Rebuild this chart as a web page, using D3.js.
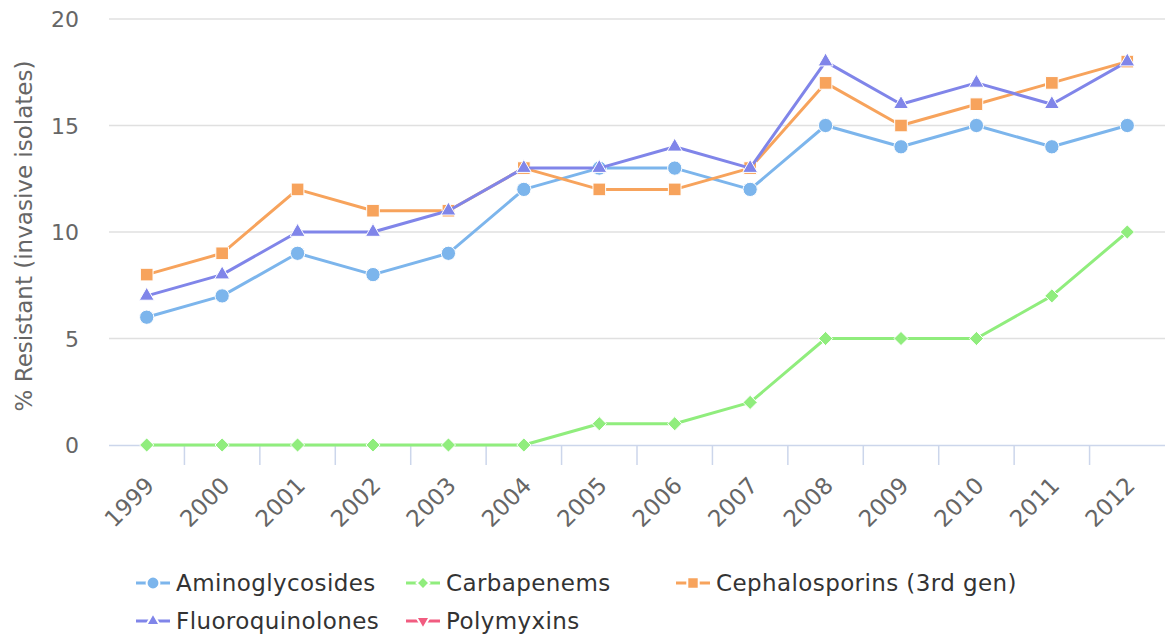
<!DOCTYPE html>
<meta charset="utf-8">
<style>
body { margin: 0; background: #fff; }
svg { font-family: "DejaVu Sans", Verdana, sans-serif; }
.grid line { stroke: #e0e0e0; stroke-width: 1.5px; }
.tick-label { fill: #666; font-size: 22px; }
.x-label { fill: #666; font-size: 23px; }
.axis-title { fill: #666; font-size: 23px; }
.legend-text { fill: #333; font-size: 23px; letter-spacing: 0.4px; }
</style>
<svg width="1165" height="635"></svg>
<script src="https://cdn.jsdelivr.net/npm/d3@7"></script>
<script>

const years = ["1999","2000","2001","2002","2003","2004","2005","2006","2007","2008","2009","2010","2011","2012"];
const seriesNames = ["Aminoglycosides", "Carbapenems", "Cephalosporins (3rd gen)", "Fluoroquinolones", "Polymyxins"];
const aminoglycosides = [6,7,9,8,9,12,13,13,12,15,14,15,14,15];
const carbapenems = [0,0,0,0,0,0,1,1,2,5,5,5,7,10];
const cephalosporins = [8,9,12,11,11,13,12,12,13,17,15,16,17,18];
const fluoroquinolones = [7,8,10,10,11,13,13,14,13,18,16,17,16,18];
const polymyxins = [];
const yTicks = [0,5,10,15,20];

const colours = ["#7cb5ec", "#90ed7d", "#f7a35c", "#8085e9", "#f15c80"];
const symbols = ["circle", "diamond", "square", "triangle", "triangle-down"];

const series = [aminoglycosides, carbapenems, cephalosporins, fluoroquinolones, polymyxins]
  .map((values, i) => ({name: seriesNames[i], values: values, colour: colours[i], symbol: symbols[i]}));

const margin = {top: 19, left: 109};
const width = 1165, height = 635;
const plotBottom = 445;

const svg = d3.select("svg");

const x = d3.scaleBand().domain(years).range([margin.left, width]);
const y = d3.scaleLinear().domain([0, 20]).range([plotBottom, margin.top]);

// grid lines
svg.append("g").attr("class", "grid")
  .selectAll("line").data(yTicks.filter(d => d > 0))
  .enter().append("line")
  .attr("x1", margin.left).attr("x2", width)
  .attr("y1", d => y(d)).attr("y2", d => y(d));

// y labels
svg.append("g").selectAll("text").data(yTicks)
  .enter().append("text")
  .attr("class", "tick-label")
  .attr("x", 79).attr("y", d => y(d) + 8)
  .attr("text-anchor", "end")
  .text(d => d);

svg.append("text")
  .attr("class", "axis-title")
  .attr("transform", "translate(32," + ((plotBottom + margin.top) / 2 + 4) + ") rotate(-90)")
  .attr("text-anchor", "middle")
  .text("% Resistant (invasive isolates)");

// x axis line + ticks
svg.append("line")
  .attr("x1", margin.left).attr("x2", width)
  .attr("y1", plotBottom + 0.5).attr("y2", plotBottom + 0.5)
  .attr("stroke", "#ccd6eb").attr("stroke-width", 1.5);

svg.append("g").selectAll("line").data(years.slice(1))
  .enter().append("line")
  .attr("x1", d => x(d)).attr("x2", d => x(d))
  .attr("y1", plotBottom).attr("y2", plotBottom + 20)
  .attr("stroke", "#ccd6eb").attr("stroke-width", 1.5);

svg.append("g").selectAll("text").data(years)
  .enter().append("text")
  .attr("class", "x-label")
  .attr("text-anchor", "end")
  .attr("transform", d => "translate(" + (x(d) + x.bandwidth() / 2 + 9) + "," + (plotBottom + 42) + ") rotate(-45)")
  .text(d => d);

// lines and markers
const cx = i => x(years[i]) + x.bandwidth() / 2;
const line = d3.line().x((d, i) => cx(i)).y(d => y(d));

function symbolFor(name, size) {
  if (name === "circle") return d3.symbol(d3.symbolCircle, size)();
  if (name === "square") return d3.symbol(d3.symbolSquare, size)();
  if (name === "diamond") return d3.symbol(d3.symbolDiamond2, size * 0.8)();
  if (name === "triangle") return d3.symbol(d3.symbolTriangle2, size)();
  if (name === "triangle-down") return d3.symbol(d3.symbolTriangle2, size)();
  return "";
}

series.forEach(s => {
  const g = svg.append("g");
  g.append("path")
    .datum(s.values)
    .attr("fill", "none")
    .attr("stroke", s.colour)
    .attr("stroke-width", 3)
    .attr("stroke-linejoin", "round")
    .attr("d", line);
  g.selectAll("path.marker").data(s.values)
    .enter().append("path")
    .attr("class", "marker")
    .attr("d", symbolFor(s.symbol, 160))
    .attr("transform", (d, i) => "translate(" + cx(i) + "," + y(d) + ")" + (s.symbol === "triangle-down" ? " rotate(180)" : ""))
    .attr("fill", s.colour)
    .attr("stroke", "#fff")
    .attr("stroke-width", 1);
});

// legend
const legendPos = [[136, 583], [406, 583], [676, 583], [136, 621], [406, 621]];
series.forEach((s, i) => {
  const [lx, ly] = legendPos[i];
  const g = svg.append("g").attr("transform", "translate(" + lx + "," + ly + ")");
  g.append("line").attr("x1", 0).attr("x2", 34).attr("y1", 0).attr("y2", 0)
    .attr("stroke", s.colour).attr("stroke-width", 3);
  g.append("path")
    .attr("d", symbolFor(s.symbol, 130))
    .attr("transform", "translate(17,0)" + (s.symbol === "triangle-down" ? " rotate(180)" : ""))
    .attr("fill", s.colour).attr("stroke", "#fff").attr("stroke-width", 2);
  g.append("text").attr("class", "legend-text")
    .attr("x", 40).attr("y", 8)
    .text(s.name);
});
</script>
